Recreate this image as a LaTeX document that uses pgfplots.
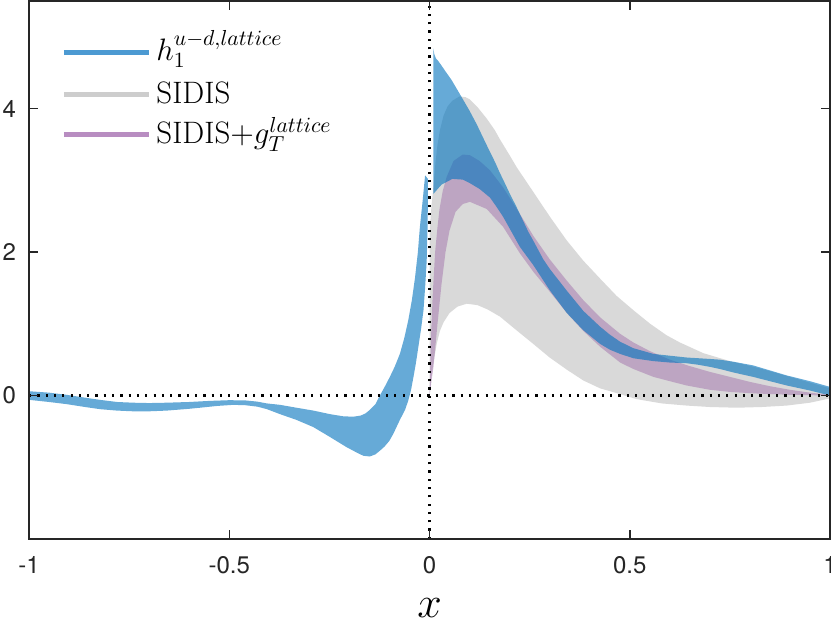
\RequirePackage{fix-cm}
\documentclass[border=0pt]{standalone}
\usepackage{fontspec}
\usepackage{pgfplots}
\pgfplotsset{compat=1.18}
\newfontfamily\heros{TeX Gyre Heros}
\definecolor{mblue}{RGB}{0,114,189}
\definecolor{mpurple}{RGB}{126,47,142}
\definecolor{bandgray}{RGB}{217,217,217}
\definecolor{axgray}{RGB}{38,38,38}
\definecolor{legblue}{RGB}{76,154,210}
\definecolor{leggray}{RGB}{205,205,205}
\definecolor{legpurple}{RGB}{184,141,193}
\begin{document}
\begin{tikzpicture}
\begin{axis}[
  name=ax,
  width=400.5pt, height=269pt, scale only axis,
  xmin=-1, xmax=1, ymin=-2, ymax=5.5,
  xtick={-1,-0.5,0,0.5,1}, xticklabels={-1,-0.5,0,0.5,1},
  ytick={0,2,4}, yticklabels={0,2,4},
  tick align=inside, major tick length=4.5pt,
  axis line style={color=axgray, line width=0.75pt},
  every tick/.style={color=axgray, line width=0.75pt},
  ticklabel style={font=\heros\fontsize{12}{14}\selectfont, text=axgray},
  xticklabel style={yshift=-5pt},
  yticklabel style={xshift=-3pt},
  xlabel={$x$},
  xlabel style={font=\fontsize{22}{26}\selectfont, at={(axis description cs:0.5,0)}, anchor=base, yshift=-39.5pt},
  axis on top,
  legend style={draw=none, fill=none, at={(axis cs:-0.935,5.146)}, anchor=north west,
    font=\fontsize{15.5}{18}\selectfont,
    nodes={inner sep=0pt, text depth=},
    row sep=0pt, column sep=2.5pt},
  legend cell align=left,
  legend image code/.code={\draw[#1, line width=2.5pt] (0pt,0pt) -- (42.5pt,0pt);},
]
% SIDIS band (gray)
\addplot[fill=bandgray, draw=none, forget plot] coordinates {
(0.0005,2.3) (0.005,2.65) (0.0095,2.9) (0.015,3.25) (0.02,3.5) (0.026,3.7) (0.035,3.9) (0.045,4.03) (0.057,4.11) (0.075,4.17) (0.09,4.16) (0.1,4.13) (0.12,4.02) (0.143,3.86) (0.163,3.70) (0.176,3.57) (0.2,3.35) (0.218,3.18) (0.259,2.84) (0.301,2.49) (0.343,2.16) (0.384,1.88) (0.426,1.63) (0.467,1.39) (0.509,1.19) (0.551,1.0) (0.592,0.84) (0.625,0.74) (0.684,0.59) (0.75,0.48) (0.81,0.40) (0.85,0.34) (0.9,0.26) (0.95,0.18) (1.0,0.1)
(1.0,-0.04) (0.95,-0.1) (0.892,-0.14) (0.83,-0.16) (0.767,-0.17) (0.7,-0.16) (0.642,-0.14) (0.58,-0.11) (0.517,-0.05) (0.476,0.02) (0.426,0.1) (0.384,0.21) (0.343,0.36) (0.3,0.53) (0.259,0.72) (0.215,0.92) (0.176,1.1) (0.145,1.2) (0.12,1.26) (0.093,1.28) (0.07,1.24) (0.05,1.15) (0.035,1.02) (0.026,0.9) (0.018,0.72) (0.0095,0.44) (0.005,0.25) (0.0005,0.0)
};
% SIDIS + gT band (purple)
\addplot[fill=mpurple, fill opacity=0.3, draw=none, forget plot] coordinates {
(0,0) (0.003,0.7) (0.008,1.4) (0.014,2.0) (0.02,2.35) (0.025,2.6) (0.033,2.85) (0.043,3.05) (0.06,3.27) (0.083,3.36) (0.101,3.35) (0.125,3.27) (0.151,3.14) (0.184,2.9) (0.218,2.6) (0.26,2.22) (0.3,1.9) (0.343,1.6) (0.384,1.33) (0.426,1.09) (0.476,0.86) (0.509,0.74) (0.55,0.62) (0.6,0.5) (0.65,0.41) (0.7,0.33) (0.75,0.26) (0.8,0.19) (0.85,0.13) (0.9,0.08) (0.95,0.04) (1.0,0.01)
(1.0,0.0) (0.9,0.01) (0.81,0.03) (0.75,0.05) (0.7,0.08) (0.642,0.14) (0.6,0.2) (0.559,0.26) (0.509,0.37) (0.476,0.46) (0.426,0.68) (0.384,0.9) (0.343,1.15) (0.3,1.45) (0.26,1.72) (0.226,1.98) (0.184,2.35) (0.143,2.6) (0.101,2.70) (0.083,2.67) (0.065,2.56) (0.05,2.3) (0.04,2.0) (0.03,1.55) (0.02,1.0) (0.01,0.4) (0,0)
};
% lattice h1, x>0 (blue)
\addplot[fill=mblue, fill opacity=0.6, draw=none, forget plot] coordinates {
(0.0095,4.84) (0.012,4.76) (0.016,4.70) (0.021,4.67) (0.03,4.60) (0.041,4.51) (0.055,4.40) (0.075,4.21) (0.1,3.97) (0.118,3.78) (0.142,3.5) (0.164,3.25) (0.176,3.1) (0.183,3.02) (0.2,2.82) (0.218,2.62) (0.247,2.28) (0.259,2.16) (0.284,1.9) (0.301,1.76) (0.343,1.46) (0.384,1.18) (0.426,0.96) (0.45,0.85) (0.476,0.75) (0.509,0.66) (0.559,0.58) (0.592,0.56) (0.642,0.53) (0.7,0.51) (0.725,0.50) (0.76,0.47) (0.808,0.42) (0.85,0.35) (0.892,0.28) (0.95,0.2) (1.0,0.12)
(1.0,0.0) (0.95,0.07) (0.892,0.14) (0.85,0.2) (0.808,0.26) (0.76,0.32) (0.725,0.37) (0.7,0.4) (0.67,0.43) (0.642,0.45) (0.6,0.46) (0.559,0.48) (0.509,0.52) (0.476,0.58) (0.45,0.64) (0.426,0.72) (0.384,0.91) (0.343,1.15) (0.3,1.47) (0.259,1.82) (0.226,2.07) (0.2,2.33) (0.184,2.49) (0.165,2.65) (0.151,2.76) (0.125,2.88) (0.101,2.96) (0.083,3.01) (0.057,3.02) (0.03,2.94) (0.0095,2.81)
};
% lattice h1, x<0 (blue)
\addplot[fill=mblue, fill opacity=0.6, draw=none, forget plot] coordinates {
(-1,0.06) (-0.95,0.04) (-0.906,0.01) (-0.86,-0.03) (-0.823,-0.06) (-0.78,-0.09) (-0.74,-0.10) (-0.7,-0.105) (-0.656,-0.10) (-0.6,-0.09) (-0.55,-0.075) (-0.5,-0.065) (-0.46,-0.068) (-0.43,-0.085) (-0.406,-0.11) (-0.373,-0.13) (-0.332,-0.17) (-0.29,-0.21) (-0.248,-0.26) (-0.215,-0.29) (-0.19,-0.295) (-0.172,-0.28) (-0.16,-0.25) (-0.149,-0.2) (-0.135,-0.12) (-0.124,0.0) (-0.112,0.12) (-0.099,0.26) (-0.087,0.4) (-0.074,0.58) (-0.063,0.8) (-0.053,1.05) (-0.044,1.33) (-0.036,1.65) (-0.029,2.0) (-0.024,2.35) (-0.017,2.72) (-0.011,3.07)
(-0.004,3.02) (-0.004,2.7) (-0.005,2.3) (-0.007,1.88) (-0.011,1.5) (-0.015,1.19) (-0.021,0.93) (-0.028,0.67) (-0.034,0.45) (-0.04,0.26) (-0.046,0.08) (-0.053,-0.07) (-0.061,-0.2) (-0.074,-0.34) (-0.09,-0.53) (-0.1,-0.63) (-0.112,-0.71) (-0.124,-0.77) (-0.135,-0.82) (-0.149,-0.85) (-0.165,-0.84) (-0.18,-0.8) (-0.207,-0.72) (-0.248,-0.58) (-0.29,-0.44) (-0.332,-0.34) (-0.373,-0.26) (-0.406,-0.19) (-0.43,-0.155) (-0.46,-0.135) (-0.49,-0.13) (-0.53,-0.145) (-0.573,-0.17) (-0.6,-0.185) (-0.656,-0.21) (-0.7,-0.22) (-0.74,-0.22) (-0.78,-0.21) (-0.823,-0.19) (-0.86,-0.16) (-0.906,-0.12) (-0.95,-0.09) (-1,-0.06)
};
% dotted zero lines
\addplot[black, line width=1.1pt, dash pattern=on 1.1pt off 3.05pt, forget plot] coordinates {(-1,0) (1,0)};
\addplot[black, line width=1.1pt, dash pattern=on 1.1pt off 3.05pt, forget plot] coordinates {(0,-2) (0,5.5)};
% legend
\addlegendimage{legblue}
\addlegendentry{\rule[-7pt]{0pt}{21pt}$h_1^{u-d,lattice}$}
\addlegendimage{leggray}
\addlegendentry{\rule[-5.5pt]{0pt}{19.85pt}SIDIS}
\addlegendimage{legpurple}
\addlegendentry{\rule[-6pt]{0pt}{20.5pt}SIDIS$+g_T^{lattice}$}
\end{axis}
\pgfresetboundingbox
\path ([shift={(-14.5pt,-40.5pt)}]ax.south west) rectangle ([shift={(0.5pt,0.5pt)}]ax.north east);
\end{tikzpicture}
\end{document}
